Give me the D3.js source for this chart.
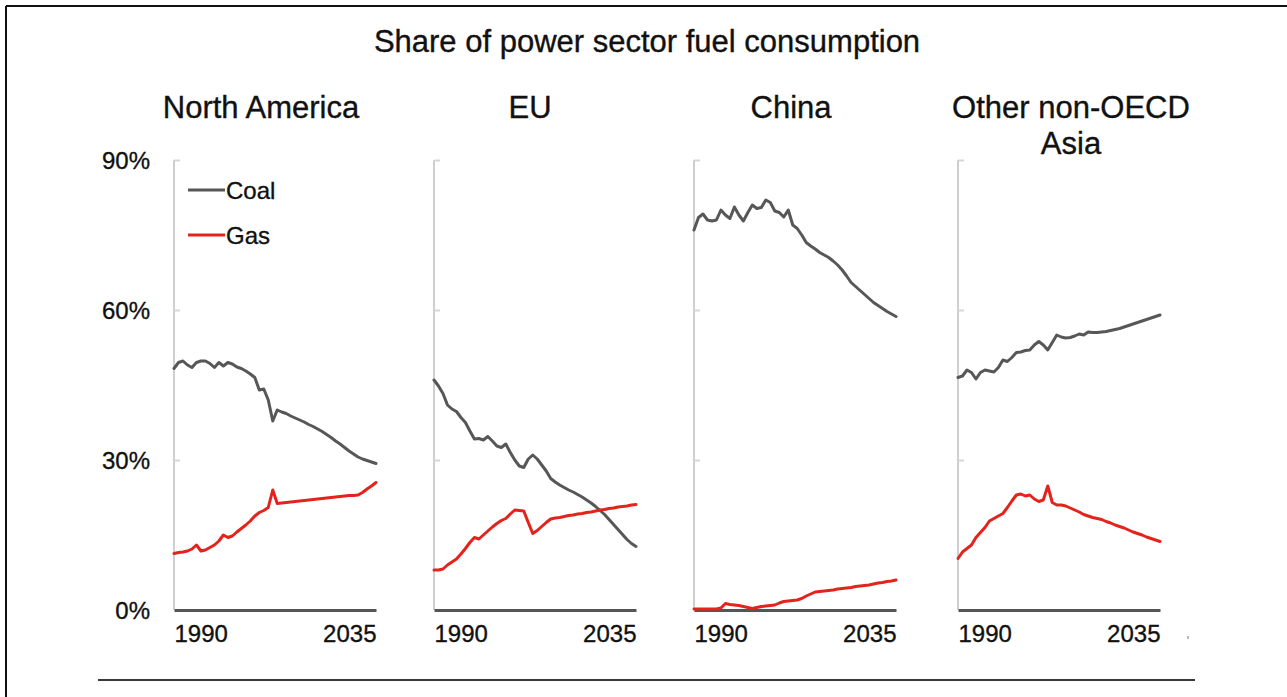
<!DOCTYPE html>
<html>
<head>
<meta charset="utf-8">
<script src="https://cdn.jsdelivr.net/npm/d3@7"></script>
<style>
  html, body { margin: 0; padding: 0; background: #fff; }
  svg { display: block; font-family: "Liberation Sans", Arial, Helvetica, sans-serif; }
</style>
</head>
<body>
<svg id="chart" width="1287" height="697"></svg>
<script>
// ---------- data ----------
const title = "Share of power sector fuel consumption";
const regions = ["North America", "EU", "China", "Other non-OECD Asia"];
const years = d3.range(1990, 2036);
const xTickLabels = [1990, 2035];
const yTickValues = [0, 30, 60, 90];
const seriesNames = ["Coal", "Gas"];

const naCoal = [48.3,49.5,49.8,49.0,48.5,49.5,49.8,49.8,49.3,48.5,49.5,48.8,49.5,49.2,48.6,48.3,47.8,47.2,46.5,44.0,44.2,42.0,37.8,40.0,39.6,39.3,38.8,38.4,38.0,37.6,37.1,36.7,36.2,35.7,35.1,34.5,33.8,33.2,32.5,31.8,31.2,30.6,30.2,29.9,29.6,29.3];
const naGas = [11.3,11.5,11.6,11.8,12.2,13.0,11.8,12.0,12.5,13.0,13.8,15.0,14.5,14.8,15.6,16.3,17.0,17.8,18.8,19.5,19.9,20.5,24.0,21.3,21.4,21.5,21.6,21.7,21.8,21.9,22.0,22.1,22.2,22.3,22.4,22.5,22.6,22.7,22.8,22.9,22.9,23.0,23.5,24.2,24.8,25.5];
const euCoal = [46.0,44.8,43.3,41.0,40.2,39.7,38.5,37.5,35.8,34.2,34.3,34.0,34.7,33.8,32.8,32.5,33.2,31.5,30.0,28.8,28.5,30.2,31.0,30.2,29.0,27.8,26.3,25.6,25.0,24.5,24.0,23.6,23.1,22.6,22.0,21.4,20.7,19.9,19.1,18.1,17.1,16.1,15.1,14.1,13.3,12.7];
const euGas = [8.0,8.0,8.2,9.0,9.6,10.2,11.2,12.3,13.5,14.5,14.2,15.0,15.8,16.6,17.3,17.9,18.3,19.2,20.0,19.9,19.8,17.5,15.3,15.9,16.7,17.5,18.2,18.4,18.5,18.7,18.9,19.0,19.2,19.3,19.5,19.6,19.8,20.0,20.1,20.3,20.4,20.6,20.7,20.8,21.0,21.1];
const chinaCoal = [76.0,78.5,79.2,78.0,77.8,78.0,80.0,79.0,78.3,80.6,79.0,77.8,79.5,81.0,80.3,80.5,82.0,81.5,79.8,79.5,78.6,80.0,77.0,76.3,75.0,73.5,72.8,72.2,71.5,71.0,70.5,69.8,69.0,68.0,66.8,65.5,64.7,63.9,63.1,62.3,61.5,60.9,60.3,59.7,59.2,58.7];
const chinaGas = [0.2,0.2,0.2,0.2,0.2,0.2,0.4,1.3,1.1,1.0,0.9,0.7,0.5,0.3,0.5,0.7,0.8,0.9,1.0,1.4,1.7,1.8,1.9,2.0,2.3,2.8,3.2,3.6,3.7,3.8,3.9,4.0,4.2,4.3,4.4,4.5,4.7,4.8,4.9,5.0,5.2,5.4,5.5,5.7,5.8,6.0];
const asiaCoal = [46.5,46.8,48.0,47.5,46.2,47.5,48.0,47.8,47.6,48.5,50.0,49.7,50.5,51.5,51.6,51.9,52.0,53.0,53.7,53.0,52.0,53.5,55.0,54.6,54.4,54.5,54.8,55.2,55.0,55.6,55.5,55.5,55.6,55.7,55.9,56.1,56.3,56.6,56.9,57.2,57.5,57.8,58.1,58.4,58.7,59.0];
const asiaGas = [10.3,11.6,12.3,13.0,14.5,15.5,16.5,17.8,18.3,18.8,19.3,20.5,21.8,23.0,23.2,22.8,23.0,22.2,21.7,22.0,24.8,21.5,21.0,21.0,20.8,20.4,20.0,19.6,19.1,18.8,18.5,18.3,18.1,17.7,17.4,17.0,16.7,16.4,16.0,15.6,15.3,15.0,14.6,14.3,14.0,13.7];

// ---------- layout ----------
const svg = d3.select("#chart");
const W = 1287, H = 697;
const panelLeft = [174, 434, 694, 958];
const panelWidth = 202;
const titleCenters = [261, 530, 791, 1071];
const yTop = 160, yBottom = 610;
const colors = { Coal: "#575757", Gas: "#e3231c" };

const panels = [
  { name: regions[0], Coal: naCoal, Gas: naGas },
  { name: regions[1], Coal: euCoal, Gas: euGas },
  { name: regions[2], Coal: chinaCoal, Gas: chinaGas },
  { name: regions[3], Coal: asiaCoal, Gas: asiaGas }
];

// frame
svg.append("line").attr("x1", 6).attr("x2", W).attr("y1", 6).attr("y2", 6)
  .attr("stroke", "#111").attr("stroke-width", 2);
svg.append("line").attr("x1", 6).attr("x2", 6).attr("y1", 6).attr("y2", H)
  .attr("stroke", "#111").attr("stroke-width", 2);
svg.append("line").attr("x1", 98).attr("x2", 1195).attr("y1", 680).attr("y2", 680)
  .attr("stroke", "#3a3a3a").attr("stroke-width", 2);

const textStyle = sel => sel.attr("fill", "#111").attr("stroke", "#111").attr("stroke-width", 0.35);

// title
svg.append("text").attr("x", 647).attr("y", 52).attr("text-anchor", "middle")
  .attr("font-size", 31).call(textStyle).text(title);

const y = d3.scaleLinear().domain([0, 90]).range([yBottom, yTop]);

// y tick labels (shared, left)
svg.append("g").selectAll("text").data(yTickValues).join("text")
  .attr("x", 150).attr("y", d => y(d)).attr("dy", "0.36em")
  .attr("text-anchor", "end").attr("font-size", 24).call(textStyle)
  .text(d => d + "%");

panels.forEach((p, i) => {
  const x0 = panelLeft[i];
  const x = d3.scaleLinear().domain([1990, 2035]).range([x0, x0 + panelWidth]);
  const g = svg.append("g");

  // panel title
  const words = p.name === "Other non-OECD Asia" ? ["Other non-OECD", "Asia"] : [p.name];
  words.forEach((w, k) => {
    g.append("text").attr("x", titleCenters[i]).attr("y", 118 + k * 36)
      .attr("text-anchor", "middle").attr("font-size", 31).call(textStyle).text(w);
  });

  // y axis (light grey line with small ticks)
  const yAxis = d3.axisRight(y).tickValues([30, 60, 90]).tickSize(6).tickFormat("");
  const ya = g.append("g").attr("transform", `translate(${x0},0)`).call(yAxis);
  ya.select(".domain").attr("stroke", "#cfcfcf").attr("stroke-width", 2)
    .attr("d", `M0,${yTop}V${yBottom}`);
  ya.selectAll(".tick line").attr("stroke", "#d6d6d6").attr("stroke-width", 2);

  // x axis baseline + labels
  const xAxis = d3.axisBottom(x).tickValues(xTickLabels).tickSize(0).tickPadding(14).tickFormat(d3.format("d"));
  const xa = g.append("g").attr("transform", `translate(0,${yBottom})`).call(xAxis);
  xa.select(".domain").attr("stroke", "#555").attr("stroke-width", 3);
  xa.selectAll(".tick text").attr("font-size", 24).call(textStyle)
    .attr("font-family", "Liberation Sans, Arial, sans-serif")
    .attr("text-anchor", d => d === 1990 ? "start" : "end")
    .attr("dy", "0.75em");

  // lines
  const line = d3.line().x((d, j) => x(years[j])).y(d => y(d));
  seriesNames.forEach(s => {
    g.append("path").datum(p[s]).attr("d", line)
      .attr("fill", "none").attr("stroke", colors[s]).attr("stroke-width", 3)
      .attr("stroke-linejoin", "round").attr("stroke-linecap", "round");
  });

  // legend in first panel
  if (i === 0) {
    seriesNames.forEach((s, k) => {
      const ly = 190 + k * 45;
      g.append("line").attr("x1", 188).attr("x2", 225).attr("y1", ly).attr("y2", ly)
        .attr("stroke", colors[s]).attr("stroke-width", 3);
      g.append("text").attr("x", 226).attr("y", ly).attr("dy", "0.36em")
        .attr("font-size", 24).call(textStyle).text(s);
    });
  }
});

// faint stray mark right of last panel
svg.append("rect").attr("x", 1187).attr("y", 636).attr("width", 2).attr("height", 3).attr("fill", "#bbb");
</script>
</body>
</html>
